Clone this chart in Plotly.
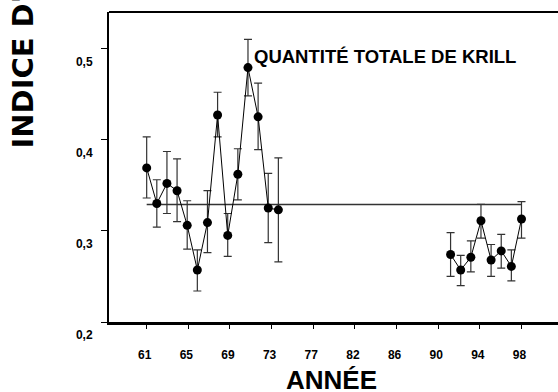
import plotly.graph_objects as go

# Early series (1961-1974)
years_a = [61, 62, 63, 64, 65, 66, 67, 68, 69, 70, 71, 72, 73, 74]
index_a = [0.369, 0.330, 0.352, 0.344, 0.306, 0.257, 0.309, 0.427, 0.295, 0.362, 0.479, 0.425, 0.325, 0.323]
upper_a = [0.403, 0.356, 0.387, 0.379, 0.333, 0.279, 0.344, 0.452, 0.319, 0.390, 0.510, 0.462, 0.363, 0.380]
lower_a = [0.336, 0.304, 0.319, 0.310, 0.280, 0.234, 0.276, 0.403, 0.272, 0.334, 0.448, 0.389, 0.287, 0.266]

# Late series (1991-1998)
years_b = [91, 92, 93, 94, 95, 96, 97, 98]
index_b = [0.274, 0.257, 0.271, 0.311, 0.268, 0.278, 0.261, 0.313]
upper_b = [0.298, 0.273, 0.289, 0.329, 0.285, 0.296, 0.279, 0.332]
lower_b = [0.250, 0.240, 0.255, 0.292, 0.250, 0.259, 0.245, 0.292]

# Overall mean level
mean_years = [61, 98]
mean_level = [0.329, 0.329]

# Axis ticks
x_tickvals = [61, 65.11, 69.22, 73.33, 77.44, 81.56, 85.67, 89.78, 93.89, 98]
x_ticktext = ["61", "65", "69", "73", "77", "82", "86", "90", "94", "98"]
y_tickvals = [0.2, 0.3, 0.4, 0.5]
y_ticktext = ["0,2", "0,3", "0,4", "0,5"]

FONT = "Liberation Sans, Arial, sans-serif"
W, H = 562, 392
L, T, B = 109, 12, 70
PW, PH = W - L, H - T - B

fig = go.Figure()

fig.add_trace(go.Scatter(
    x=mean_years, y=mean_level, mode="lines",
    line=dict(color="#333333", width=1.5), hoverinfo="skip", showlegend=False))

for xs, ys, up, lo in [(years_a, index_a, upper_a, lower_a), (years_b, index_b, upper_b, lower_b)]:
    fig.add_trace(go.Scatter(
        x=xs, y=ys, mode="lines+markers",
        line=dict(color="black", width=1),
        marker=dict(color="black", size=9),
        error_y=dict(type="data", symmetric=False,
                     array=[u - v for u, v in zip(up, ys)],
                     arrayminus=[v - l for v, l in zip(ys, lo)],
                     color="#333333", thickness=1.2, width=4),
        showlegend=False))

fig.add_annotation(
    x=(252 - L) / PW, y=(T + PH - 57) / PH, xref="paper", yref="paper",
    text="<b>QUANTITÉ TOTALE DE KRILL</b>", showarrow=False,
    xanchor="left", yanchor="middle",
    font=dict(family=FONT, size=18.5, color="black"))

fig.add_annotation(
    x=-(L - 22) / PW, y=(T + PH - 151) / PH, xref="paper", yref="paper",
    text="<b>INDICE D'ABONDANCE</b>", textangle=-90, showarrow=False,
    xanchor="center", yanchor="bottom",
    font=dict(family="DejaVu Sans, sans-serif", size=29, color="black"))

fig.add_annotation(
    x=(331 - L) / PW, y=-(380 - T - PH) / PH, xref="paper", yref="paper",
    text="<b>ANNÉE</b>", showarrow=False,
    xanchor="center", yanchor="middle",
    font=dict(family=FONT, size=26, color="black"))

fig.add_shape(type="line", xref="paper", yref="paper", x0=0, x1=1, y0=1, y1=1,
              line=dict(color="black", width=2))

fig.update_layout(
    width=W, height=H,
    margin=dict(l=L, r=0, t=T, b=B, autoexpand=False),
    paper_bgcolor="white", plot_bgcolor="white",
    font=dict(family=FONT, color="black"),
    hovermode=False,
    xaxis=dict(
        range=[57.28, 57.28 + PW / 10.13], tickmode="array", tickvals=x_tickvals, ticktext=x_ticktext,
        showgrid=False, zeroline=False, showline=True, linecolor="black", linewidth=2.5,
        ticks="outside", ticklen=4, tickwidth=1, tickcolor="black",
        tickfont=dict(family=FONT, size=12, color="black", weight="bold"),
        ticklabelstandoff=16, ticklabelshift=-2, automargin=False,
    ),
    yaxis=dict(
        range=[0.2, 0.54], tickmode="array", tickvals=y_tickvals, ticktext=y_ticktext,
        showgrid=False, zeroline=False, showline=True, linecolor="black", linewidth=2,
        ticks="outside", ticklen=6, tickwidth=1, tickcolor="black",
        tickfont=dict(family=FONT, size=12, color="black", weight="bold"),
        ticklabelshift=13, ticklabelstandoff=6, automargin=False,
    ),
)

fig.write_html("out.html", config={"displayModeBar": False},
               post_script="document.body.style.margin='0';document.body.style.overflow='hidden';")
